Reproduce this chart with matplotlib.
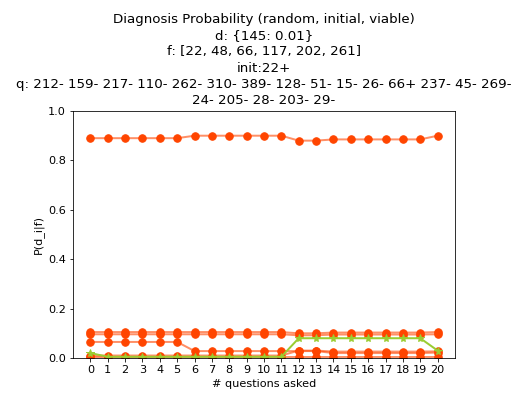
import matplotlib
matplotlib.use('Agg')
import matplotlib.pyplot as plt
import numpy as np

steps = list(range(21))

# orange lines: other diagnoses
p_top = [0.89] * 6 + [0.90] * 6 + [0.88, 0.88] + [0.885] * 6 + [0.90]
p_b = [0.105] * 12 + [0.100] * 2 + [0.103] * 6 + [0.105]
p_c = [0.096] * 12 + [0.092] * 2 + [0.095] * 6 + [0.096]
p_d = [0.065] * 6 + [0.028] * 8 + [0.020] * 6 + [0.022]
p_e = [0.010] * 12 + [0.030] * 2 + [0.026] * 6 + [0.027]
p_f = [0.003] * 21
others = [p_top, p_b, p_c, p_d, p_e, p_f]

# green line: true diagnosis 145
p_true = [0.02] + [0.005] * 11 + [0.08] * 8 + [0.03]

title = ('Diagnosis Probability (random, initial, viable)\n'
         'd: {145: 0.01}\n'
         'f: [22, 48, 66, 117, 202, 261]\n'
         'init:22+\n'
         'q: 212- 159- 217- 110- 262- 310- 389- 128- 51- 15- 26- 66+ 237- 45- 269-\n'
         '24- 205- 28- 203- 29-')

fig = plt.figure(figsize=(518 / 72, 396 / 72), dpi=72)
ax = fig.add_axes([73 / 518, 38 / 396, 382 / 518, 247 / 396])

for p in others:
    ax.plot(steps, p, color='#FF4500', alpha=0.6, linewidth=2)
    ax.plot(steps, p, color='#FF4500', marker='o', markersize=7.5, linestyle='none')

ax.plot(steps, p_true, color='#9ACD32', linewidth=2, marker='*', markersize=8)

ax.set_ylim(0, 1)
ax.set_xticks(steps)
ax.tick_params(labelsize=11.3)
ax.set_xlabel('# questions asked', fontsize=11.3)
ax.set_ylabel('P(d_i|f)', fontsize=11.3)
ax.set_title(title, fontsize=13.4, pad=7, linespacing=1.32)

fig.savefig('out.png', dpi=72)
